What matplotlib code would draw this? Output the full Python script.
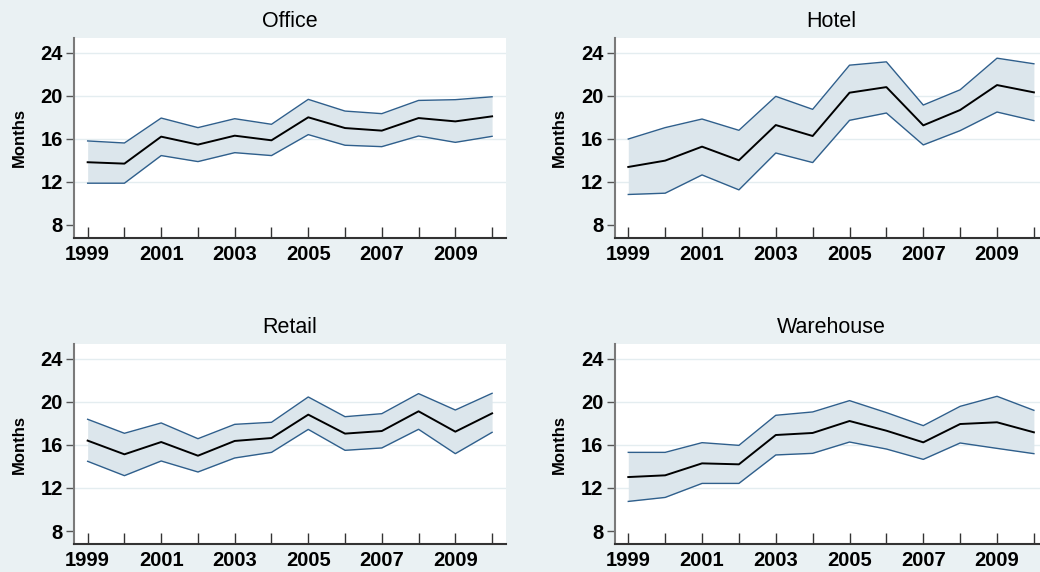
import matplotlib
matplotlib.use("Agg")
import matplotlib.pyplot as plt
import numpy as np

plt.rcParams['font.family'] = ['Liberation Sans', 'DejaVu Sans']

years = list(range(1999, 2011))
panels = ["Office", "Hotel", "Retail", "Warehouse"]

office_mean = [13.82, 13.69, 16.20, 15.46, 16.29, 15.86, 18.00, 17.00, 16.76, 17.93, 17.62, 18.09]
office_upper = [15.80, 15.61, 17.93, 17.04, 17.87, 17.35, 19.67, 18.58, 18.34, 19.57, 19.64, 19.91]
office_lower = [11.87, 11.87, 14.44, 13.88, 14.71, 14.44, 16.39, 15.40, 15.27, 16.26, 15.67, 16.23]

hotel_mean = [13.38, 13.97, 15.27, 14.00, 17.28, 16.26, 20.29, 20.81, 17.25, 18.68, 21.00, 20.32]
hotel_upper = [15.98, 17.04, 17.84, 16.79, 19.95, 18.74, 22.85, 23.16, 19.14, 20.56, 23.50, 22.98]
hotel_lower = [10.82, 10.94, 12.64, 11.25, 14.68, 13.79, 17.72, 18.40, 15.43, 16.76, 18.49, 17.69]

retail_mean = [16.39, 15.12, 16.26, 14.99, 16.36, 16.63, 18.80, 17.04, 17.28, 19.11, 17.22, 18.92]
retail_upper = [18.37, 17.07, 18.03, 16.57, 17.90, 18.09, 20.44, 18.61, 18.89, 20.75, 19.23, 20.78]
retail_lower = [14.47, 13.14, 14.50, 13.48, 14.78, 15.30, 17.43, 15.49, 15.71, 17.44, 15.18, 17.16]

warehouse_mean = [13.01, 13.17, 14.28, 14.19, 16.91, 17.10, 18.21, 17.31, 16.23, 17.93, 18.09, 17.16]
warehouse_upper = [15.30, 15.30, 16.20, 15.95, 18.74, 19.05, 20.10, 18.99, 17.78, 19.57, 20.50, 19.20]
warehouse_lower = [10.75, 11.12, 12.42, 12.42, 15.06, 15.21, 16.26, 15.61, 14.65, 16.17, 15.67, 15.18]

series = {
    "Office": (office_mean, office_upper, office_lower),
    "Hotel": (hotel_mean, hotel_upper, hotel_lower),
    "Retail": (retail_mean, retail_upper, retail_lower),
    "Warehouse": (warehouse_mean, warehouse_upper, warehouse_lower),
}

yticks = [8, 12, 16, 20, 24]
xtick_labels = [1999, 2001, 2003, 2005, 2007, 2009]

bg = '#EAF1F3'
fill_c = '#DCE6EC'
edge_c = '#2F5F8C'

fig = plt.figure(figsize=(10.4, 5.72), dpi=100, facecolor=bg)

positions = {
    "Office": [0.0712, 0.5839, 0.4154, 0.3497],
    "Hotel": [0.5910, 0.5839, 0.4166, 0.3497],
    "Retail": [0.0712, 0.0484, 0.4154, 0.3507],
    "Warehouse": [0.5910, 0.0484, 0.4166, 0.3507],
}

for name in panels:
    mean, upper, lower = series[name]
    ax = fig.add_axes(positions[name])
    ax.set_facecolor('white')
    ax.fill_between(years, lower, upper, color=fill_c, lw=0, zorder=2)
    ax.plot(years, upper, color=edge_c, lw=1.0, zorder=3)
    ax.plot(years, lower, color=edge_c, lw=1.0, zorder=3)
    ax.plot(years, mean, color='black', lw=1.4, zorder=4)
    ax.set_xlim(1998.63, 2010.38)
    ax.set_ylim(6.77, 25.38)
    ax.set_yticks(yticks)
    ax.set_yticklabels([str(v) for v in yticks])
    ax.set_xticks(years)
    ax.set_xticklabels([str(y) if y in xtick_labels else '' for y in years])
    for g in [12, 16, 20, 24]:
        ax.axhline(g, color='#E4EDF0', lw=1.0, zorder=1)
    for s in ['top', 'right']:
        ax.spines[s].set_visible(False)
    ax.spines['left'].set_color('#7A7A7A')
    ax.spines['left'].set_linewidth(1.5)
    ax.spines['bottom'].set_color('#333333')
    ax.spines['bottom'].set_linewidth(1.5)
    ax.tick_params(axis='x', direction='in', length=8, width=1.0, color='#333333',
                   labelsize=14.5, pad=5)
    ax.tick_params(axis='y', direction='out', length=6, width=1.0, color='#555555',
                   labelsize=14.5, pad=2)
    for lab in ax.get_xticklabels() + ax.get_yticklabels():
        lab.set_fontweight('bold')
    ax.set_ylabel('Months', fontsize=12, fontweight='bold', labelpad=10)
    ax.set_title(name, fontsize=15.5, pad=8)

fig.savefig('out.png', dpi=100, facecolor=bg)
